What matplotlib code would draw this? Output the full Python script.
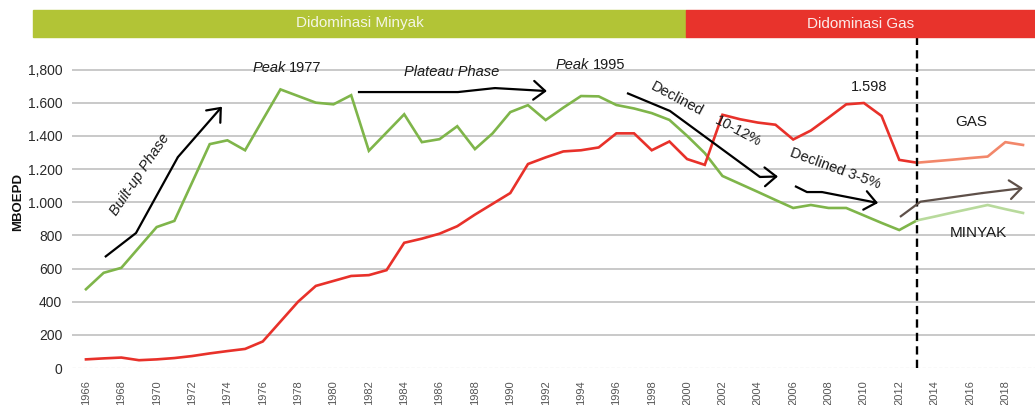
import matplotlib
matplotlib.use("Agg")
import matplotlib.pyplot as plt
from matplotlib.patches import Rectangle, FancyArrowPatch

plt.rcParams['font.family'] = ['Liberation Sans', 'DejaVu Sans']

# ---------------- data ----------------
years_hist = list(range(1966, 2014))
oil_hist = [475, 574, 604, 727, 850, 887, 1118, 1350, 1373, 1313,
            1497, 1680, 1640, 1600, 1590, 1645, 1310, 1420, 1530, 1362,
            1380, 1458, 1320, 1415, 1543, 1585, 1495, 1570, 1640, 1638,
            1586, 1565, 1537, 1496, 1400, 1296, 1158, 1110, 1062, 1013,
            965, 983, 965, 965, 920, 875, 832, 890]
gas_hist = [52, 58, 63, 47, 52, 60, 72, 88, 102, 115,
            160, 280, 400, 495, 525, 555, 560, 590, 755, 780,
            810, 855, 925, 990, 1055, 1230, 1270, 1306, 1313, 1330,
            1415, 1415, 1313, 1366, 1260, 1225, 1527, 1500, 1480, 1467,
            1378, 1432, 1510, 1590, 1598, 1520, 1255, 1238]

years_proj = list(range(2013, 2020))
oil_proj = [890, 913, 937, 960, 983, 958, 935]
gas_proj = [1238, 1247, 1256, 1266, 1275, 1362, 1345]

y_ticks = [0, 200, 400, 600, 800, 1000, 1200, 1400, 1600, 1800]
y_tick_labels = ['0', '200', '400', '600', '800', '1.000', '1.200', '1.400', '1.600', '1,800']
x_ticks = list(range(1966, 2021, 2))

split_year = 2013

# annotation arrow paths (year, value)
arrow_buildup = [(1967.07, 669), (1968.83, 814), (1971.2, 1272), (1973.69, 1576)]
arrow_plateau = [(1981.38, 1664), (1987.04, 1664), (1989.13, 1688), (1992.07, 1670)]
arrow_decl1 = [(1996.6, 1658), (1999.03, 1550), (2004.12, 1152), (2005.14, 1155)]
arrow_decl2 = [(2006.1, 1097), (2006.78, 1061), (2007.63, 1061), (2010.8, 995)]
arrow_proj = [(2012.04, 911), (2013.2, 1003), (2016.7, 1055), (2019.0, 1085)]

# ---------------- figure ----------------
W, H = 1035, 405
fig = plt.figure(figsize=(W / 100, H / 100), dpi=100)

def fx(x):
    return x / W

def fy(y):
    return 1 - y / H

ax_left, ax_right, ax_top, ax_bot = 72, 1046, 38, 368
ax = fig.add_axes([fx(ax_left), fy(ax_bot), (ax_right - ax_left) / W, (ax_bot - ax_top) / H])
ax.set_xlim(1965.21, 2020.30)
ax.set_ylim(0, 1990)
for s in ax.spines.values():
    s.set_visible(False)

# grid
for v in y_ticks[1:]:
    ax.axhline(v, color='#c9c9c9', lw=1.4, zorder=1)
ax.axhline(0, color='#9a9a9a', lw=0.8, ls=(0, (3, 2)), zorder=1)

# data lines
GREEN = '#7fb54a'
GREEN_L = '#b8da9c'
RED = '#e8312a'
RED_L = '#f2876a'
ax.plot(years_hist, oil_hist, color=GREEN, lw=1.9, zorder=3, solid_joinstyle='miter')
ax.plot(years_proj, oil_proj, color=GREEN_L, lw=1.9, zorder=3)
ax.plot(years_hist, gas_hist, color=RED, lw=1.9, zorder=3, solid_joinstyle='miter')
ax.plot(years_proj, gas_proj, color=RED_L, lw=1.9, zorder=3)

# vertical dashed line
ax.axvline(split_year, color='black', lw=1.7, ls=(0, (3.5, 2.2)), zorder=4)

# arrows
def poly_arrow(pts, color='black', lw=1.6):
    xs = [p[0] for p in pts[:-1]]
    ys = [p[1] for p in pts[:-1]]
    ax.plot(xs, ys, color=color, lw=lw, zorder=5, solid_capstyle='butt')
    arr = FancyArrowPatch(pts[-2], pts[-1], arrowstyle='->,head_length=0.55,head_width=0.45',
                          mutation_scale=15, color=color, lw=lw, shrinkA=0, shrinkB=0, zorder=5)
    ax.add_patch(arr)

poly_arrow(arrow_buildup)
poly_arrow(arrow_plateau)
poly_arrow(arrow_decl1)
poly_arrow(arrow_decl2)
poly_arrow(arrow_proj, color='#5e5049')

# texts
TXT = '#1a1a1a'
ax.text(1969.05, 1164, 'Built-up Phase', rotation=56, style='italic', fontsize=10.5,
        ha='center', va='center', color=TXT, rotation_mode='anchor')
ax.text(1977.3, 1809, 'Peak', style='italic', fontsize=10.5, ha='right', va='center', color=TXT)
ax.annotate('1977', (1977.3, 1809), xytext=(2.5, 0), textcoords='offset points',
            fontsize=10.5, ha='left', va='center', color=TXT)
ax.text(1986.7, 1785, 'Plateau Phase', style='italic', fontsize=10.5, ha='center', va='center', color=TXT)
ax.text(1994.45, 1827, 'Peak', style='italic', fontsize=10.5, ha='right', va='center', color=TXT)
ax.annotate('1995', (1994.45, 1827), xytext=(2.5, 0), textcoords='offset points',
            fontsize=10.5, ha='left', va='center', color=TXT)
ax.text(1999.43, 1622, 'Declined', rotation=-28, fontsize=10.5, ha='center', va='center',
        color=TXT, rotation_mode='anchor')
ax.text(2002.9, 1429, '10-12%', rotation=-28, fontsize=10.5, ha='center', va='center',
        color=TXT, rotation_mode='anchor')
ax.text(2008.4, 1200, 'Declined 3-5%', rotation=-20, fontsize=10.5, ha='center', va='center',
        color=TXT, rotation_mode='anchor')
ax.text(2010.3, 1695, '1.598', fontsize=10.5, ha='center', va='center', color=TXT)
ax.text(2016.1, 1483, 'GAS', fontsize=11, ha='center', va='center', color=TXT)
ax.text(2016.45, 814, 'MINYAK', fontsize=11, ha='center', va='center', color=TXT)

# ticks
ax.set_yticks(y_ticks)
ax.set_yticklabels(y_tick_labels, fontsize=10, color='#2a2a2a')
ax.tick_params(axis='y', length=0, pad=7)
ax.set_xticks(x_ticks)
ax.set_xticklabels([str(y) for y in x_ticks], rotation=90, fontsize=8, color='#555555')
ax.tick_params(axis='x', length=0, pad=9)

# y label
fig.text(fx(18), fy(202), 'MBOEPD', rotation=90, fontsize=9.5, fontweight='bold',
         ha='center', va='center', color='#111111')

# banner
bx0, bsplit, bx1, by0, by1 = 33, 686, 1035, 10, 37
fig.patches.append(Rectangle((fx(bx0), fy(by1)), (bsplit - bx0) / W, (by1 - by0) / H,
                             transform=fig.transFigure, color='#b2c436', zorder=0))
fig.patches.append(Rectangle((fx(bsplit), fy(by1)), (bx1 - bsplit) / W, (by1 - by0) / H,
                             transform=fig.transFigure, color='#e8332c', zorder=0))
fig.text(fx((bx0 + bsplit) / 2), fy((by0 + by1) / 2), 'Didominasi Minyak', fontsize=11,
         color='#f4f6e6', ha='center', va='center')
fig.text(fx((bsplit + bx1) / 2), fy((by0 + by1) / 2), 'Didominasi Gas', fontsize=11,
         color='#fbeaea', ha='center', va='center')

fig.savefig('out.png', dpi=100)
